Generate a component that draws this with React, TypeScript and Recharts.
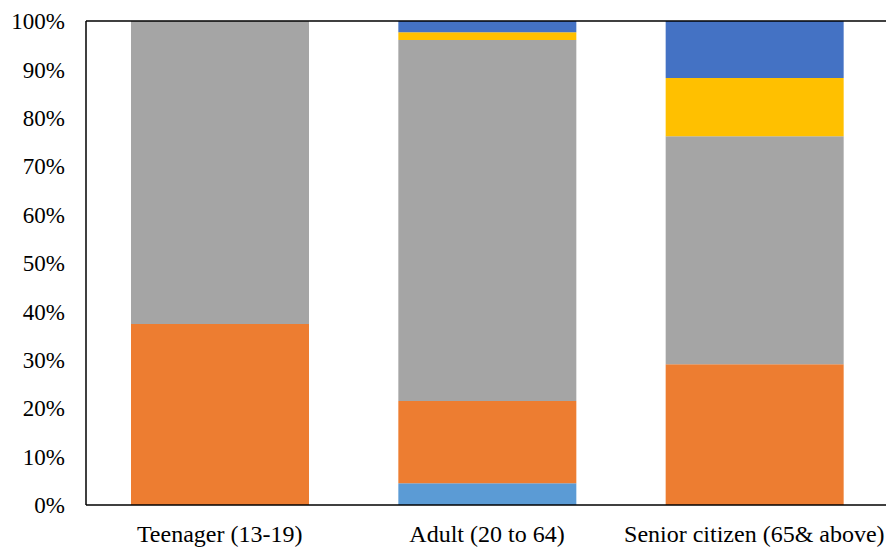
import { BarChart, Bar, XAxis, YAxis, ReferenceLine } from "recharts";

const categories = ["Teenager (13-19)", "Adult (20 to 64)", "Senior citizen (65& above)"];
const seriesA = [0, 4.5, 0];
const seriesB = [37.4, 17.0, 29.1];
const seriesC = [62.6, 74.6, 47.1];
const seriesD = [0, 1.6, 12.0];
const seriesE = [0, 2.3, 11.8];
const yTicks = [0, 10, 20, 30, 40, 50, 60, 70, 80, 90, 100];

const data = categories.map((name, i) => ({
  name,
  a: seriesA[i],
  b: seriesB[i],
  c: seriesC[i],
  d: seriesD[i],
  e: seriesE[i],
}));

const font = "Liberation Serif";

export default function App() {
  return (
    <div
      style={{
        position: "absolute",
        left: 0,
        top: 0,
        width: 886,
        height: 549,
        overflow: "hidden",
        background: "#fff",
        fontFamily: font,
      }}
    >
      <BarChart
        width={890}
        height={549}
        data={data}
        margin={{ top: 21, right: 2, bottom: 0, left: 0 }}
        barSize={178}
        style={{ fontFamily: font }}
      >
        <XAxis
          dataKey="name"
          height={44}
          axisLine={{ stroke: "#000", strokeWidth: 1.5 }}
          tickLine={false}
          tickSize={0}
          tickMargin={20}
          tick={{ fill: "#000", fontSize: 24, fontFamily: font }}
          interval={0}
        />
        <YAxis
          width={86}
          domain={[0, 100]}
          ticks={yTicks}
          tickFormatter={(v) => `${v}%`}
          axisLine={{ stroke: "#000", strokeWidth: 1.5 }}
          tickLine={false}
          tickSize={0}
          tickMargin={21}
          tick={{ fill: "#000", fontSize: 23, fontFamily: font }}
          allowDataOverflow
        />
        <ReferenceLine y={100} stroke="#000" strokeWidth={1.5} />
        <Bar dataKey="a" stackId="s" fill="#5B9BD5" isAnimationActive={false} />
        <Bar dataKey="b" stackId="s" fill="#ED7D31" isAnimationActive={false} />
        <Bar dataKey="c" stackId="s" fill="#A5A5A5" isAnimationActive={false} />
        <Bar dataKey="d" stackId="s" fill="#FFC000" isAnimationActive={false} />
        <Bar dataKey="e" stackId="s" fill="#4472C4" isAnimationActive={false} />
      </BarChart>
    </div>
  );
}
